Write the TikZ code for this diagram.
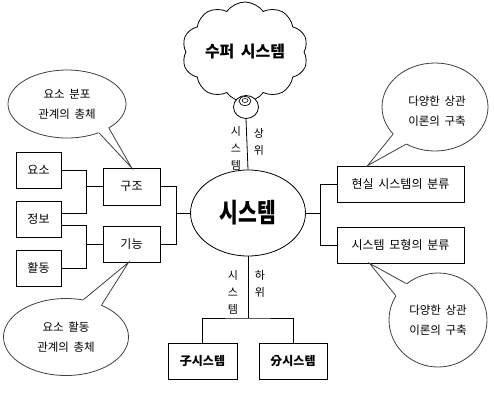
\documentclass[tikz,border=0pt]{standalone}
\usepackage{fontspec}
\setmainfont{Noto Sans CJK KR}
\usetikzlibrary{shapes.geometric,shapes.symbols}
\newcommand{\ws}{\hspace{0.4em}}
\tikzset{
  box/.style={draw, line width=0.8pt, minimum width=#1, minimum height=36pt, inner sep=0pt, font=\fontsize{12}{14}\selectfont},
  box/.default=45pt,
  bubble/.style={draw=black!75, line width=0.8pt, ellipse, fill=white, inner sep=0pt},
  btext/.style={align=center, font=\fontsize{11.5}{20}\selectfont},
  wire/.style={line width=0.8pt},
  tail/.style={draw=black!75, line width=0.8pt},
  vlab/.style={align=center, inner sep=0pt, font=\fontsize{11}{17}\selectfont}
}
\begin{document}
\begin{tikzpicture}[x=1pt,y=-1pt]
\useasboundingbox (0,0) rectangle (494,405);
% cloud
\node[cloud, cloud puffs=10, cloud puff arc=110, cloud ignores aspect, draw, line width=0.8pt, minimum width=126pt, minimum height=100pt, font=\fontsize{16}{18}\selectfont\bfseries] (cloud) at (245,52) {수퍼\ws 시스템};
% thought bubble ring
\node[draw, ellipse, line width=0.8pt, fill=white, minimum width=25pt, minimum height=23pt, inner sep=0pt] (tb) at (246,107) {};
\node[draw, ellipse, line width=0.7pt, minimum width=12pt, minimum height=9pt, inner sep=0pt] (tb2) at (245,101) {};
\node[draw, ellipse, line width=0.6pt, minimum width=6pt, minimum height=4pt, inner sep=0pt] (tb3) at (245,100.5) {};
% central system
\node[draw, ellipse, line width=0.8pt, minimum width=115pt, minimum height=86pt, inner sep=0pt, font=\fontsize{24}{28}\selectfont\bfseries] (sys) at (248,213) {\scalebox{0.85}[1.1]{시스템}};
\draw[wire] (tb.south) -- (sys.north);
\node[vlab] (upl) at (236,148) {시\\스\\템};
\node[vlab] (upr) at (259,142) {상\\위};
\node[vlab] (dnl) at (233,292) {시\\스\\템};
\node[vlab] (dnr) at (260,284) {하\\위};
% bottom
\node[box=69pt, font=\fontsize{12}{14}\selectfont\bfseries] (ja) at (202.5,361) {子시스템};
\node[box=68pt, font=\fontsize{12}{14}\selectfont\bfseries] (bun) at (293,361.5) {分시스템};
\coordinate (bj) at (248,318);
\draw[wire] (sys.south) -- (bj);
\draw[wire] (ja.north) |- (bj) -| (bun.north);
% left boxes
\node[box] (yoso) at (38.5,170) {요소};
\node[box] (jeongbo) at (38.5,219) {정보};
\node[box] (hwal) at (38.5,268) {활동};
\node[box=57pt, minimum height=37pt] (gujo) at (131.5,186.5) {구조};
\node[box=57pt] (gin) at (131.5,244) {기능};
\coordinate (lx1) at (86,0);
\coordinate (lx2) at (176,0);
\draw[wire] (yoso.east) -| ([yshift=6pt]jeongbo.east -| lx1) -- ([yshift=6pt]jeongbo.east);
\draw[wire] (gujo.west -| lx1) -- (gujo.west);
\draw[wire] ([yshift=-6pt]jeongbo.east) -| (hwal.east -| lx1) -- (hwal.east);
\draw[wire] (gin.west -| lx1) -- (gin.west);
\draw[wire] (gujo.east) -| (gin.east -| lx2) -- (gin.east);
\draw[wire] (sys.west) -- (sys.west -| lx2);
% right boxes
\node[box=127pt] (hyun) at (400.5,184) {현실\ws 시스템의\ws 분류};
\node[box=127pt] (mo) at (400.5,245) {시스템\ws 모형의\ws 분류};
\coordinate (rx) at (320,0);
\draw[wire] (hyun.west) -| (mo.west -| rx) -- (mo.west);
\draw[wire] (sys.east) -- (sys.east -| rx);
% speech bubbles
\node[bubble, minimum width=118pt, minimum height=68pt] (b1) at (67,104) {};
\fill[white] (b1.-42) -- (gujo.north) -- (b1.-30) -- (b1.center) -- cycle;
\draw[tail] (b1.-42) -- (gujo.north) -- (b1.-30);
\node[btext] (t1) at (b1.center) {요소\ws 분포\\관계의\ws 총체};

\node[bubble, minimum width=125pt, minimum height=77pt] (b2) at (66,337) {};
\fill[white] (b2.65) -- ([xshift=-3pt]gin.south) -- (b2.42) -- (b2.center) -- cycle;
\draw[tail] (b2.65) -- ([xshift=-3pt]gin.south) -- (b2.42);
\node[btext] (t2) at (b2.center) {요소\ws 활동\\관계의\ws 총체};

\node[bubble, minimum width=106pt, minimum height=88pt] (b3) at (435,107) {};
\fill[white] (b3.213) -- ([xshift=31pt]hyun.north west) -- (b3.232) -- (b3.center) -- cycle;
\draw[tail] (b3.213) -- ([xshift=31pt]hyun.north west) -- (b3.232);
\node[btext] (t3) at (437,111) {다양한\ws 상관\\이론의\ws 구축};

\node[bubble, minimum width=98pt, minimum height=94pt] (b4) at (438,320) {};
\fill[white] (b4.131) -- ([xshift=33pt]mo.south west) -- (b4.150) -- (b4.center) -- cycle;
\draw[tail] (b4.131) -- ([xshift=33pt]mo.south west) -- (b4.150);
\node[btext] (t4) at (b4.center) {다양한\ws 상관\\이론의\ws 구축};
\end{tikzpicture}
\end{document}
